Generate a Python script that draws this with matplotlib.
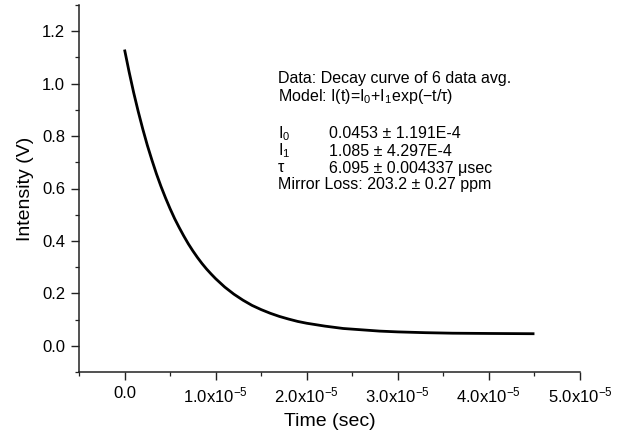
import numpy as np
import matplotlib
matplotlib.use("Agg")
import matplotlib.pyplot as plt
from matplotlib.ticker import FixedLocator, MultipleLocator

plt.rcParams['font.family'] = ['Liberation Sans', 'DejaVu Sans']
plt.rcParams['mathtext.fontset'] = 'custom'
plt.rcParams['mathtext.rm'] = 'Liberation Sans'
plt.rcParams['mathtext.it'] = 'Liberation Sans:italic'
plt.rcParams['mathtext.bf'] = 'Liberation Sans:bold'

# Data (time in microseconds, intensity in V)
time_us = [0, 0.5, 1, 1.5, 2, 2.5, 3, 3.5, 4, 4.5, 5, 5.5, 6, 6.5, 7, 7.5, 8, 8.5,
           9, 9.5, 10, 11, 12, 13, 14, 15, 16, 17, 18, 19, 20, 22, 24, 26, 28, 30,
           33, 36, 40, 45]
intensity = [1.130, 1.045, 0.966, 0.894, 0.827, 0.765, 0.709, 0.656, 0.608, 0.564,
             0.523, 0.485, 0.451, 0.419, 0.389, 0.362, 0.337, 0.314, 0.293, 0.274,
             0.256, 0.224, 0.197, 0.174, 0.154, 0.138, 0.124, 0.112, 0.102, 0.093,
             0.086, 0.075, 0.066, 0.061, 0.056, 0.053, 0.050, 0.048, 0.047, 0.046]

x_ticks = [0.0, 1.0e-5, 2.0e-5, 3.0e-5, 4.0e-5, 5.0e-5]
x_tick_labels = ["0.0", r"1.0x10$^{-5}$", r"2.0x10$^{-5}$", r"3.0x10$^{-5}$",
                 r"4.0x10$^{-5}$", r"5.0x10$^{-5}$"]
y_ticks = [0.0, 0.2, 0.4, 0.6, 0.8, 1.0, 1.2]
y_tick_labels = ["0.0", "0.2", "0.4", "0.6", "0.8", "1.0", "1.2"]

info_lines = [
    "Data: Decay curve of 6 data avg.",
    r"Model: I(t)=I$_0$+I$_1$exp(−t/τ)",
]
param_names = [r"I$_0$", r"I$_1$", "τ"]
param_values = ["0.0453 ± 1.191E-4", "1.085 ± 4.297E-4", "6.095 ± 0.004337 μsec"]
loss_line = "Mirror Loss: 203.2 ± 0.27 ppm"

t = np.array(time_us) * 1e-6

fig = plt.figure(figsize=(6.25, 4.34), dpi=100)
ax = fig.add_axes([79 / 625, 1 - 372 / 434, (580 - 79) / 625, (372 - 5) / 434])

ax.plot(t, intensity, color='black', lw=2.0, solid_capstyle='butt')

ax.set_xlim(-0.5e-5, 5.0e-5)
ax.set_ylim(-0.1, 1.3)

for s in ['top', 'right']:
    ax.spines[s].set_visible(False)
for s in ['left', 'bottom']:
    ax.spines[s].set_linewidth(1.1)
    ax.spines[s].set_color('#222222')

ax.xaxis.set_major_locator(FixedLocator(x_ticks))
ax.set_xticklabels(x_tick_labels)
ax.xaxis.set_minor_locator(MultipleLocator(0.5e-5))
ax.yaxis.set_major_locator(FixedLocator(y_ticks))
ax.set_yticklabels(y_tick_labels)
ax.yaxis.set_minor_locator(MultipleLocator(0.1))

ax.tick_params(axis='both', which='major', direction='out', length=6, width=1.0,
               labelsize=12, color='#222222', pad=4)
ax.tick_params(axis='both', which='minor', direction='out', length=3, width=0.9,
               color='#222222')

ax.set_xlabel("Time (sec)", fontsize=14, labelpad=5)
ax.set_ylabel("Intensity (V)", fontsize=14, labelpad=6)

fs = 11.5
xl = 278 / 625
xv = 329 / 625
fig.text(xl, 1 - 79 / 434, info_lines[0], fontsize=fs, va='center', ha='left')
fig.text(xl, 1 - 96 / 434, info_lines[1], fontsize=fs, va='center', ha='left')
ys = [134, 151, 168]
for name, val, y in zip(param_names, param_values, ys):
    fig.text(xl, 1 - y / 434, name, fontsize=fs, va='center', ha='left')
    fig.text(xv, 1 - y / 434, val, fontsize=fs, va='center', ha='left')
fig.text(xl, 1 - 185 / 434, loss_line, fontsize=fs, va='center', ha='left')

fig.savefig("out.png", dpi=100)
